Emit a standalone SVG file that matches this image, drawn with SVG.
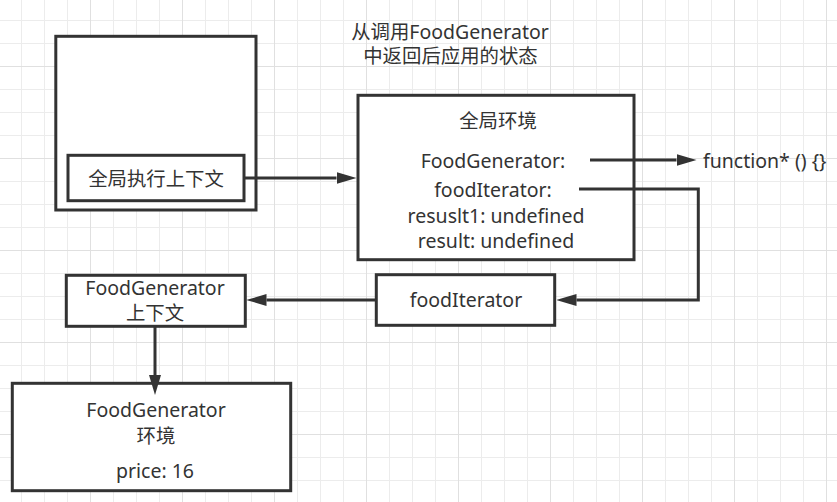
<svg xmlns="http://www.w3.org/2000/svg" width="837" height="502" viewBox="0 0 837 502">
  <style>
    .box { fill: #ffffff; stroke: #333333; stroke-width: 3; }
    .edge { fill: none; stroke: #333333; stroke-width: 3; }
    text { fill: #333333; font-family: "Noto Sans", "Noto Sans CJK SC", sans-serif; font-size: 19.5px; text-anchor: middle; }
    .cjk { font-family: "Noto Sans CJK SC", sans-serif; font-size: 19.4px; }
  </style>
  <defs>
    <pattern id="grid" x="90" y="66" width="92" height="92" patternUnits="userSpaceOnUse">
      <path d="M23.5,0V92M46.5,0V92M69.5,0V92M0,23.5H92M0,46.5H92M0,69.5H92" stroke="#ececec" stroke-width="1" fill="none"/>
      <path d="M0.5,0V92M0,0.5H92" stroke="#e0e0e0" stroke-width="1" fill="none"/>
    </pattern>
    <marker id="arrow" markerUnits="userSpaceOnUse" markerWidth="20" markerHeight="12" refX="0" refY="6" orient="auto" viewBox="0 0 20 12">
      <path d="M0,0 L20,6 L0,12 Z" fill="#333333"/>
    </marker>
  </defs>
  <rect width="837" height="502" fill="#ffffff"/>
  <rect width="837" height="502" fill="url(#grid)"/>

  <g id="title">
    <text x="450" y="39"><tspan class="cjk">从调用</tspan>FoodGenerator</text>
    <text class="cjk" x="450.5" y="63">中返回后应用的状态</text>
  </g>

  <g id="global-outer">
    <rect class="box" x="55.8" y="36.3" width="200.2" height="173.7"/>
  </g>
  <g id="global-context">
    <rect class="box" x="68" y="155.3" width="176" height="45.4"/>
    <text class="cjk" x="156" y="186">全局执行上下文</text>
  </g>
  <g id="global-env">
    <rect class="box" x="358" y="95.3" width="276" height="164.4"/>
    <text class="cjk" x="498" y="128">全局环境</text>
    <text x="493" y="168">FoodGenerator:</text>
    <text x="493" y="196.5">foodIterator:</text>
    <text x="496" y="223">resuslt1: undefined</text>
    <text x="496" y="248">result: undefined</text>
  </g>
  <g id="function-label">
    <text x="703" y="168" style="text-anchor:start">function* () {}</text>
  </g>
  <g id="food-iterator">
    <rect class="box" x="376.3" y="274.7" width="178.4" height="50.6"/>
    <text x="466" y="306.5">foodIterator</text>
  </g>
  <g id="fg-context">
    <rect class="box" x="66.3" y="275.3" width="179" height="51"/>
    <text x="155" y="295">FoodGenerator</text>
    <text class="cjk" x="155" y="320">上下文</text>
  </g>
  <g id="fg-env">
    <rect class="box" x="12.3" y="383.3" width="278.4" height="107.4"/>
    <text x="156" y="417">FoodGenerator</text>
    <text class="cjk" x="156" y="442.5">环境</text>
    <text x="155" y="478">price: 16</text>
  </g>

  <g id="connectors">
    <path class="edge" d="M244,178 H336.5" marker-end="url(#arrow)"/>
    <path class="edge" d="M590,160 H676.5" marker-end="url(#arrow)"/>
    <path class="edge" d="M579,189 H698.3 V300 H576.5" marker-end="url(#arrow)"/>
    <path class="edge" d="M376.3,300 H266.5" marker-end="url(#arrow)"/>
    <path class="edge" d="M155,326.3 V375" marker-end="url(#arrow)"/>
  </g>
</svg>
